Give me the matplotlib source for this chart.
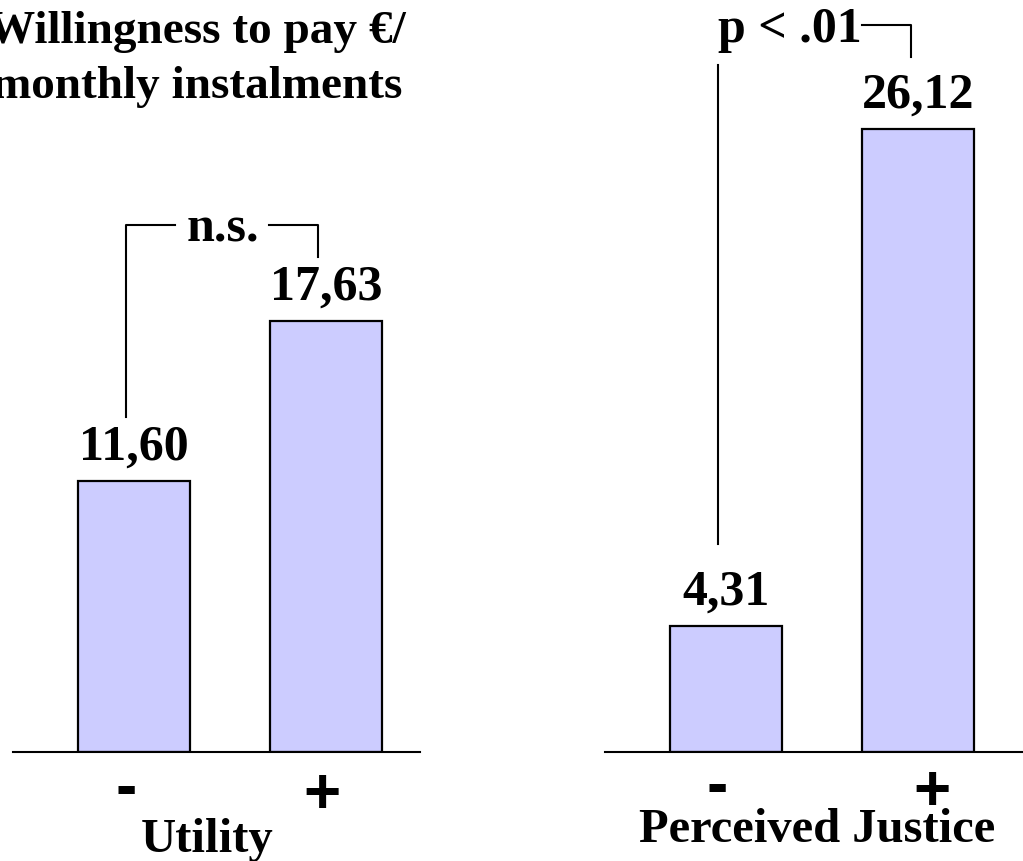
import matplotlib.pyplot as plt

W, H = 1023, 862

groups = ['-', '+']
utility = [11.60, 17.63]
justice = [4.31, 26.12]
utility_labels = ['11,60', '17,63']
justice_labels = ['4,31', '26,12']

SERIF = 'Liberation Serif'
SANS = 'Liberation Sans'
BAR = '#CCCCFF'

fig = plt.figure(figsize=(W / 100, H / 100), dpi=100)


def px_axes(x0, x1, top, bottom):
    return fig.add_axes([x0 / W, 1 - bottom / H, (x1 - x0) / W, (bottom - top) / H])


def setup(ax, xlim, ylim):
    ax.set_xlim(*xlim)
    ax.set_ylim(*ylim)
    for s in ['top', 'right', 'left']:
        ax.spines[s].set_visible(False)
    ax.spines['bottom'].set_linewidth(1.5)
    ax.set_xticks([])
    ax.set_yticks([])
    ax.patch.set_alpha(0)


def bars(ax, vals, labels, sign_dx, sign_dy):
    x = list(range(len(vals)))
    base = ax.get_ylim()[0]
    # the drawing's baseline is not at zero, so bars rise from the axis floor
    ax.bar(x, [v - base for v in vals], bottom=base, width=0.583, color=BAR,
           edgecolor='black', linewidth=1.6)
    for i, (v, lab) in enumerate(zip(vals, labels)):
        ax.annotate(lab, (i, v), xytext=(0, 16), textcoords='offset points',
                    ha='center', va='baseline', fontsize=36,
                    fontfamily=SERIF, fontweight='bold')
    for i, g in enumerate(groups):
        ax.annotate(g, (i + sign_dx[i], 0), xycoords=ax.get_xaxis_transform(),
                    xytext=(0, -sign_dy[i]), textcoords='offset points',
                    ha='center', va='center', fontsize=46,
                    fontfamily=SANS, fontweight='bold')


# left panel: Utility
ax1 = px_axes(13, 420, 0, 753)
setup(ax1, (-0.630, 1.490), (1.39, 29.77))
bars(ax1, utility, utility_labels, [-0.04, -0.02], [27, 31])
lw = 1.5
ax1.plot([-0.042, -0.042, 0.214], [14.02, 21.25, 21.25], color='black', lw=lw, clip_on=False)
ax1.plot([0.703, 0.958, 0.958], [21.25, 21.25, 20.05], color='black', lw=lw, clip_on=False)
ax1.text(0.464, 20.65, 'n.s.', ha='center', va='baseline', fontsize=36,
         fontfamily=SERIF, fontweight='bold')

# right panel: Perceived Justice
ax2 = px_axes(605, 1023, 0, 753)
setup(ax2, (-0.630, 1.547), (-1.22, 31.82))
bars(ax2, justice, justice_labels, [-0.047, 0.073], [25, 29])
ax2.plot([-0.042, -0.042], [7.91, 28.92], color='black', lw=lw, clip_on=False)
ax2.plot([0.708, 0.964, 0.964], [30.68, 30.68, 29.28], color='black', lw=lw, clip_on=False)
ax2.text(0.333, 29.98, 'p < .01', ha='center', va='baseline', fontsize=36,
         fontfamily=SERIF, fontweight='bold')

# titles and axis labels
fig.text(197 / W, 1 - 43 / H, 'Willingness to pay €/', ha='center', va='baseline',
         fontsize=34, fontfamily=SERIF, fontweight='bold')
fig.text(197 / W, 1 - 98 / H, 'monthly instalments', ha='center', va='baseline',
         fontsize=34, fontfamily=SERIF, fontweight='bold')
fig.text(207 / W, 1 - 852 / H, 'Utility', ha='center', va='baseline',
         fontsize=35, fontfamily=SERIF, fontweight='bold')
fig.text(817 / W, 1 - 842 / H, 'Perceived Justice', ha='center', va='baseline',
         fontsize=35, fontfamily=SERIF, fontweight='bold')

fig.savefig('out.png', dpi=100)
